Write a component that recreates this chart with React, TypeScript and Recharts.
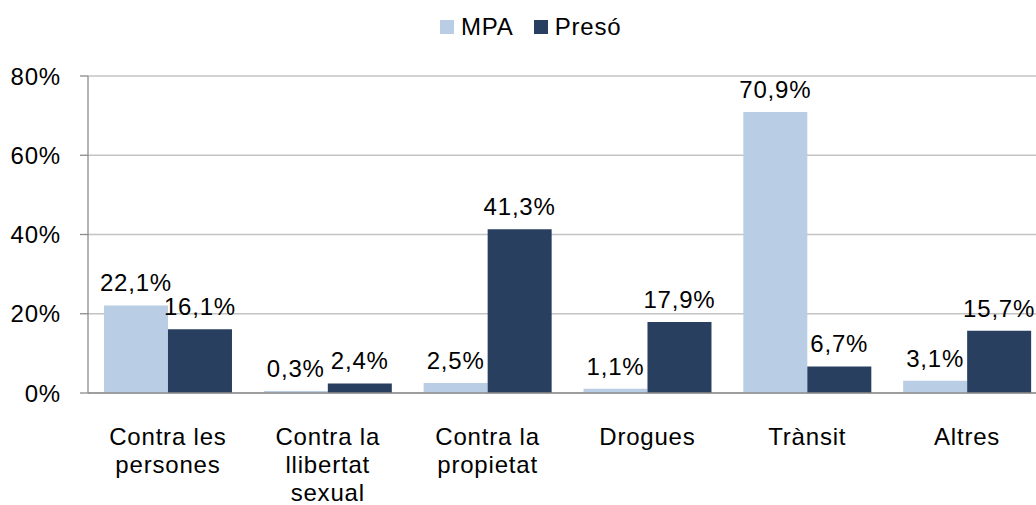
import React from "react";
import { BarChart, Bar, XAxis, YAxis, CartesianGrid, Legend, LabelList } from "recharts";

const categories = [
  "Contra les\npersones",
  "Contra la\nllibertat\nsexual",
  "Contra la\npropietat",
  "Drogues",
  "Trànsit",
  "Altres",
];
const mpa = [22.1, 0.3, 2.5, 1.1, 70.9, 3.1];
const preso = [16.1, 2.4, 41.3, 17.9, 6.7, 15.7];
const yTicks = [0, 20, 40, 60, 80];
const edgeTicks = [0, 1, 2, 3, 4, 5, 6];

const series = [
  { key: "mpa", name: "MPA", color: "#b9cde5" },
  { key: "preso", name: "Presó", color: "#283f60" },
];

const data = categories.map((c, i) => ({ cat: c, mpa: mpa[i], preso: preso[i] }));

const font = "'Liberation Sans', Arial, sans-serif";
const axisGrey = "#8c8c8c";
const pct = (v: number) => v.toFixed(1).replace(".", ",") + "%";

const CategoryTick = ({ x, y, payload }: any) => {
  const lines = String(payload.value).split("\n");
  return (
    <text x={x} y={y} textAnchor="middle" fontSize={24} fill="#000" fontFamily={font} letterSpacing={0.8}>
      {lines.map((l, i) => (
        <tspan key={i} x={x} dy={i === 0 ? 52 : 28}>{l}</tspan>
      ))}
    </text>
  );
};

const LegendBox = () => (
  <div style={{ display: "flex", alignItems: "center", height: 68, paddingLeft: 440, paddingTop: 5, boxSizing: "border-box", alignContent: "flex-start", flexWrap: "wrap" }}>
    {series.map((s) => (
      <div key={s.key} style={{ display: "flex", alignItems: "center", height: 28, marginRight: 20 }}>
        <span style={{ width: 14, height: 14, background: s.color, marginRight: 7, display: "inline-block" }} />
        <span style={{ fontFamily: font, fontSize: 24, letterSpacing: 0.8, color: "#000", lineHeight: "28px" }}>{s.name}</span>
      </div>
    ))}
  </div>
);

export default function App() {
  return (
    <div style={{ position: "absolute", left: 0, top: 0, width: 1036, height: 505, overflow: "hidden", background: "#fff" }}>
      <BarChart
        width={1047}
        height={505}
        data={data}
        margin={{ top: 8, right: 0, left: 0, bottom: 8 }}
        barCategoryGap="10%"
        barGap={0}
      >
        <CartesianGrid vertical={false} stroke="#c4c4c4" strokeWidth={1.3} />
        <Legend verticalAlign="top" content={<LegendBox />} wrapperStyle={{ left: 0, width: 1047, height: 68 }} />
        <XAxis
          xAxisId="edges"
          type="number"
          domain={[0, 6]}
          ticks={edgeTicks}
          tick={false}
          tickSize={8}
          tickLine={{ stroke: axisGrey, strokeWidth: 1.3 }}
          axisLine={false}
          height={0}
          allowDataOverflow
        />
        <XAxis
          dataKey="cat"
          interval={0}
          tickLine={false}
          tickSize={0}
          tickMargin={0}
          axisLine={{ stroke: axisGrey, strokeWidth: 1.3 }}
          tick={<CategoryTick />}
          height={104}
        />
        <YAxis
          domain={[0, 80]}
          ticks={yTicks}
          width={88}
          tickSize={8}
          tickMargin={19}
          tickLine={{ stroke: axisGrey, strokeWidth: 1.3 }}
          axisLine={{ stroke: axisGrey, strokeWidth: 1.3 }}
          tickFormatter={(v) => v + "%"}
          tick={{ fill: "#000", fontSize: 24, fontFamily: font, letterSpacing: 0.8 }}
        />
        {series.map((s) => (
          <Bar key={s.key} dataKey={s.key} name={s.name} fill={s.color} minPointSize={2} isAnimationActive={false}>
            <LabelList
              dataKey={s.key}
              position="top"
              offset={14}
              formatter={(v: any) => pct(Number(v))}
              style={{ fill: "#000", fontSize: 24, fontFamily: font, letterSpacing: 0.8 }}
            />
          </Bar>
        ))}
      </BarChart>
    </div>
  );
}
